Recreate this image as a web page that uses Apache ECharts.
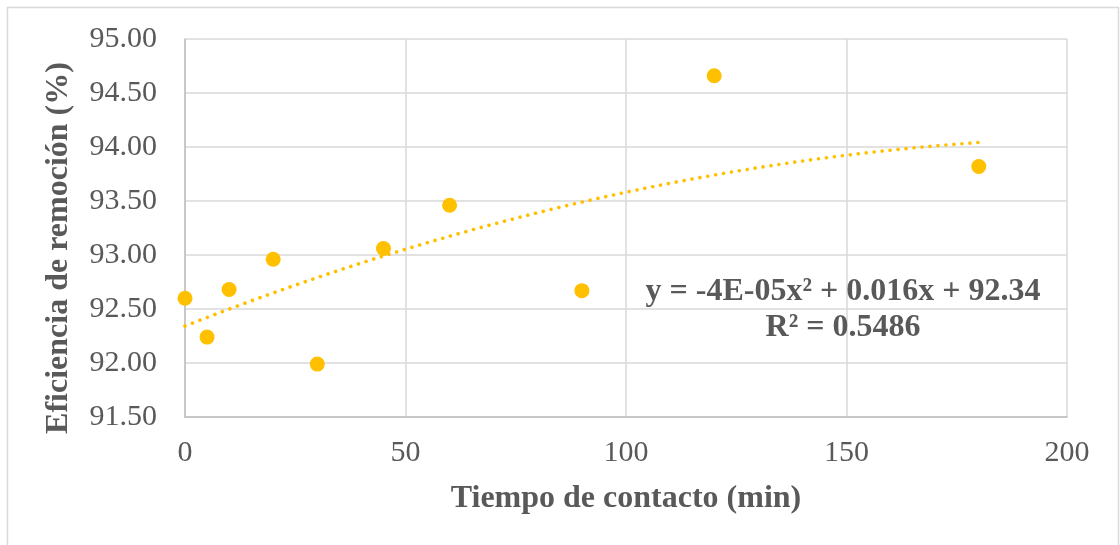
<!DOCTYPE html>
<html>
<head>
<meta charset="utf-8">
<script src="https://cdn.jsdelivr.net/npm/echarts@6/dist/echarts.min.js"></script>
<style>
  html, body { margin: 0; padding: 0; background: #ffffff; }
  #chart { width: 1120px; height: 545px; }
</style>
</head>
<body>
<div id="chart"></div>
<script>
// Contact time (min) and removal efficiency (%)
const tiempo = [0, 5, 10, 20, 30, 45, 60, 90, 120, 180];
const eficiencia = [92.60, 92.24, 92.68, 92.96, 91.99, 93.06, 93.46, 92.67, 94.66, 93.82];
const xTicks = [0, 50, 100, 150, 200];
const yTicks = [91.5, 92.0, 92.5, 93.0, 93.5, 94.0, 94.5, 95.0];
const tituloX = 'Tiempo de contacto (min)';
const tituloY = 'Eficiencia de remoción (%)';
const ecuacion = 'y = -4E-05x² + 0.016x + 92.34';
const r2Texto = 'R² = 0.5486';

// Second-order polynomial least-squares fit of the measured points
function polyFit2(xs, ys) {
  let s0 = 0, s1 = 0, s2 = 0, s3 = 0, s4 = 0, t0 = 0, t1 = 0, t2 = 0;
  for (let i = 0; i < xs.length; i++) {
    const x = xs[i], y = ys[i];
    s0 += 1; s1 += x; s2 += x * x; s3 += x * x * x; s4 += x * x * x * x;
    t0 += y; t1 += x * y; t2 += x * x * y;
  }
  const M = [[s0, s1, s2, t0], [s1, s2, s3, t1], [s2, s3, s4, t2]];
  for (let c = 0; c < 3; c++) {
    for (let r = c + 1; r < 3; r++) {
      const f = M[r][c] / M[c][c];
      for (let k = c; k < 4; k++) M[r][k] -= f * M[c][k];
    }
  }
  const b = [0, 0, 0];
  for (let r = 2; r >= 0; r--) {
    let s = M[r][3];
    for (let k = r + 1; k < 3; k++) s -= M[r][k] * b[k];
    b[r] = s / M[r][r];
  }
  return b; // [c0, c1, c2]
}

const coef = polyFit2(tiempo, eficiencia);
const xMin = Math.min(...tiempo), xMax = Math.max(...tiempo);
const tendencia = [];
for (let i = 0; i <= 90; i++) {
  const x = xMin + (xMax - xMin) * i / 90;
  tendencia.push([x, coef[0] + coef[1] * x + coef[2] * x * x]);
}

const puntos = tiempo.map((t, i) => [t, eficiencia[i]]);
const gris = '#595959';
const oro = '#FFC000';
const serif = '"Liberation Serif", "Times New Roman", serif';

const chart = echarts.init(document.getElementById('chart'), null, { renderer: 'canvas' });
chart.setOption({
  backgroundColor: '#ffffff',
  animation: false,
  grid: { left: 185, right: 53, top: 39, bottom: 128, containLabel: false },
  xAxis: {
    type: 'value',
    min: xTicks[0],
    max: xTicks[xTicks.length - 1],
    interval: xTicks[1] - xTicks[0],
    name: tituloX,
    nameLocation: 'middle',
    nameGap: 66,
    nameTextStyle: { fontFamily: serif, fontWeight: 'bold', fontSize: 32, color: gris },
    axisLine: { show: true, lineStyle: { color: '#bfbfbf', width: 1.5 } },
    axisTick: { show: false },
    axisLabel: { fontFamily: serif, fontSize: 30, color: gris, margin: 21 },
    splitLine: { show: true, lineStyle: { color: '#d9d9d9', width: 1.5 } }
  },
  yAxis: {
    type: 'value',
    min: yTicks[0],
    max: yTicks[yTicks.length - 1],
    interval: yTicks[1] - yTicks[0],
    axisLine: { show: true, lineStyle: { color: '#bfbfbf', width: 1.5 } },
    axisTick: { show: false },
    axisLabel: {
      fontFamily: serif, fontSize: 30, color: gris, margin: 28,
      formatter: v => v.toFixed(2)
    },
    splitLine: { show: true, lineStyle: { color: '#d9d9d9', width: 1.5 } }
  },
  graphic: [
    {
      type: 'rect', silent: true, z: -1,
      shape: { x: 7.5, y: 7.5, width: 1111, height: 560 },
      style: { fill: 'none', stroke: '#d9d9d9', lineWidth: 1.5 }
    },
    {
      type: 'text', z: 10,
      x: 59, y: 248, rotation: Math.PI / 2,
      style: {
        text: tituloY,
        font: 'bold 32px ' + serif,
        fill: gris, align: 'center', verticalAlign: 'middle'
      }
    },
    {
      type: 'text', z: 10,
      x: 843, y: 292,
      style: {
        text: ecuacion,
        font: 'bold 32px ' + serif,
        fill: gris, align: 'center', verticalAlign: 'middle'
      }
    },
    {
      type: 'text', z: 10,
      x: 843, y: 328,
      style: {
        text: r2Texto,
        font: 'bold 32px ' + serif,
        fill: gris, align: 'center', verticalAlign: 'middle'
      }
    }
  ],
  series: [
    {
      type: 'line',
      data: tendencia,
      showSymbol: false,
      smooth: false,
      z: 2,
      lineStyle: { color: oro, width: 3.6, type: [0.01, 8], cap: 'round' }
    },
    {
      type: 'scatter',
      data: puntos,
      symbol: 'circle',
      symbolSize: 15,
      z: 3,
      itemStyle: { color: oro, opacity: 1 }
    }
  ]
});
</script>
</body>
</html>
